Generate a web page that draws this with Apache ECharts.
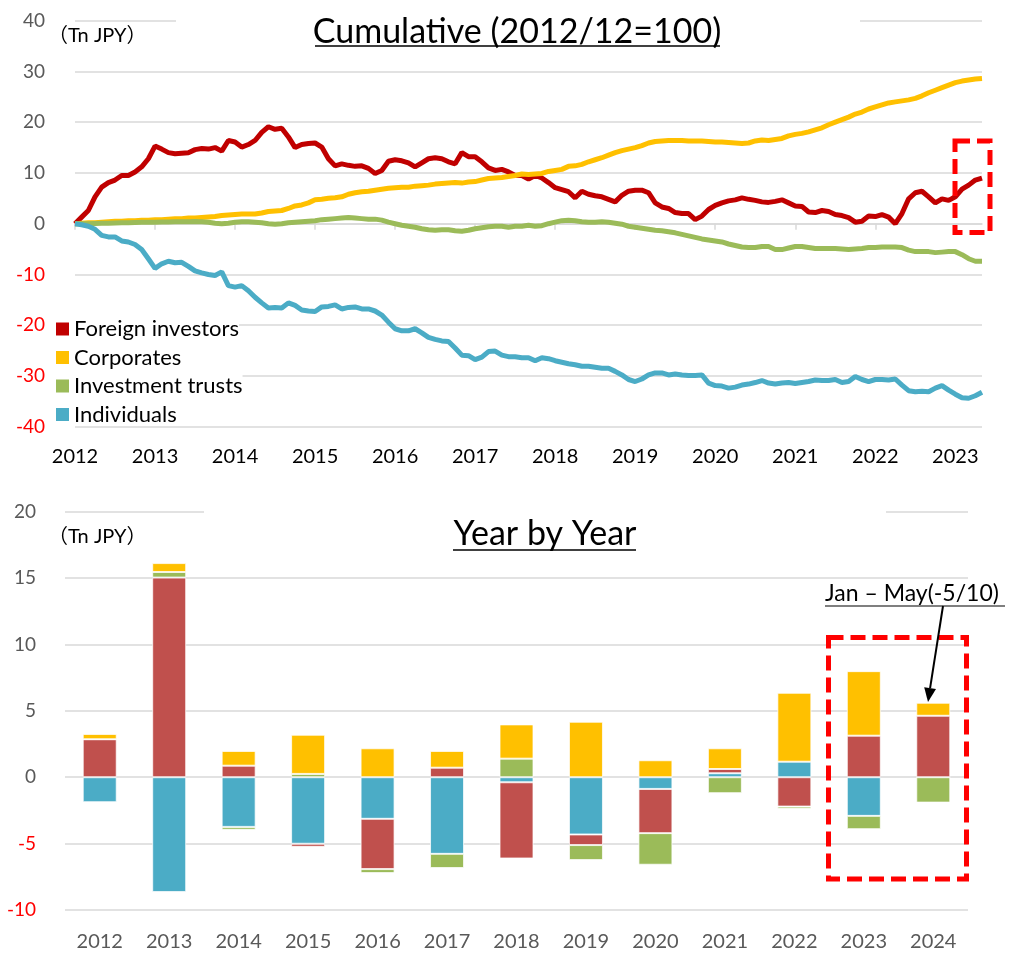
<!DOCTYPE html>
<html>
<head>
<meta charset="utf-8">
<script src="https://cdn.jsdelivr.net/npm/echarts@6/dist/echarts.min.js"></script>
<style>
  html, body { margin: 0; padding: 0; background: #fff; }
  #chart { width: 1009px; height: 953px; }
</style>
</head>
<body>
<div id="chart"></div>
<script>
const FONT = 'Lato, "Noto Sans CJK JP", sans-serif'

// cumulative net buying, monthly from 2012/12 (Tn JPY)
const foreignCum = [
  0, 1.3, 2.6, 5.3, 7.2, 8.1, 8.6, 9.5, 9.5, 10.2, 11.2, 12.8, 15.3, 14.7, 14.0, 13.8, 13.9, 14.0, 14.6, 14.8,
  14.7, 15.0, 14.3, 16.4, 16.1, 15.1, 15.6, 16.4, 18.0, 19.1, 18.6, 18.8, 17.1, 15.0, 15.6,
  15.8, 15.9, 15.1, 12.8, 11.4, 11.8, 11.5, 11.3, 11.4, 10.9, 9.9, 10.5, 12.3, 12.6, 12.4, 12.0, 11.2, 12.0,
  12.8, 13.0, 12.8, 12.2, 11.8, 14.0, 13.2, 13.2, 12.2, 11.0, 10.5, 10.7, 10.2, 9.5, 9.5, 8.8, 9.5,
  9.0, 8.1, 7.1, 6.7, 6.3, 5.1, 6.4, 5.8, 5.5, 5.3, 4.8, 4.3, 5.6, 6.4, 6.6, 6.6, 6.1, 4.1, 3.3, 3.0,
  2.2, 2.0, 2.0, 0.8, 1.5, 2.8, 3.6, 4.1, 4.5, 4.7, 5.1, 4.8, 4.6, 4.3,
  4.2, 4.4, 4.7, 4.1, 3.5, 3.4, 2.3, 2.2, 2.6, 2.4, 1.8, 1.6, 1.2, 0.3, 0.5, 1.5, 1.4, 1.8, 1.3, 0.0,
  2.0, 4.9, 6.1, 6.4, 5.3, 4.1, 4.9, 4.6, 5.3, 6.8, 7.6, 8.6, 9.0
]
const corporatesCum = [
  0, 0.1, 0.2, 0.2, 0.3, 0.4, 0.5, 0.5, 0.6, 0.6, 0.7, 0.7, 0.8, 0.8, 0.9, 1.0, 1.0, 1.1, 1.1, 1.2,
  1.3, 1.4, 1.6, 1.7, 1.8, 1.9, 1.9, 1.9, 2.1, 2.4, 2.5, 2.6, 3.0, 3.5, 3.7,
  4.1, 4.7, 4.8, 5.0, 5.1, 5.3, 5.8, 6.1, 6.3, 6.4, 6.6, 6.8, 7.0, 7.1, 7.2, 7.2, 7.4, 7.5,
  7.6, 7.8, 7.9, 8.0, 8.1, 8.0, 8.2, 8.3, 8.6, 8.9, 9.0, 9.1, 9.3, 9.5, 9.8, 9.7, 9.8,
  9.9, 10.3, 10.5, 10.7, 11.3, 11.4, 11.7, 12.2, 12.6, 13.0, 13.5, 14.0, 14.4, 14.7, 15.0, 15.4, 15.9, 16.2, 16.3, 16.4,
  16.4, 16.4, 16.3, 16.3, 16.3, 16.2, 16.1, 16.1, 16.0, 15.9, 15.8, 15.9, 16.3, 16.5,
  16.4, 16.6, 16.8, 17.3, 17.6, 17.8, 18.1, 18.5, 18.9, 19.5, 20.0, 20.5, 21.0, 21.6, 22.0, 22.6, 23.0, 23.4, 23.8, 24.0,
  24.2, 24.4, 24.7, 25.2, 25.8, 26.3, 26.8, 27.3, 27.8, 28.1, 28.3, 28.5, 28.6
]
const trustsCum = [
  0, 0, 0, 0.05, 0.1, 0.1, 0.15, 0.2, 0.2, 0.25, 0.3, 0.3, 0.3, 0.35, 0.35, 0.4, 0.4, 0.4, 0.45, 0.4,
  0.3, 0.1, 0, 0.1, 0.3, 0.4, 0.4, 0.3, 0.2, 0, -0.1, 0, 0.2, 0.3, 0.4,
  0.5, 0.6, 0.8, 0.9, 1.0, 1.1, 1.2, 1.1, 1.0, 0.9, 0.9, 0.7, 0.3, 0.0, -0.3, -0.5, -0.7, -1.0,
  -1.2, -1.3, -1.2, -1.2, -1.4, -1.5, -1.3, -1.0, -0.8, -0.6, -0.5, -0.5, -0.7, -0.5, -0.5, -0.3, -0.5,
  -0.4, 0.0, 0.3, 0.6, 0.7, 0.6, 0.4, 0.3, 0.3, 0.4, 0.3, 0.1, -0.1, -0.5, -0.7, -0.9, -1.1, -1.3, -1.4, -1.6,
  -1.8, -2.1, -2.4, -2.7, -3.0, -3.2, -3.4, -3.6, -4.0, -4.3, -4.6, -4.7, -4.7, -4.5,
  -4.5, -5.1, -5.1, -4.8, -4.5, -4.5, -4.7, -4.9, -4.9, -4.9, -4.9, -5.0, -5.1, -5.0, -4.9, -4.7, -4.7, -4.6, -4.6, -4.6,
  -4.7, -5.2, -5.5, -5.5, -5.5, -5.7, -5.6, -5.5, -5.5, -6.1, -6.9, -7.4, -7.4
]
const individualsCum = [
  0, -0.2, -0.5, -1.1, -2.3, -2.6, -2.6, -3.4, -3.6, -4.1, -5.1, -6.9, -8.8, -7.9, -7.4, -7.7, -7.6, -8.4, -9.3, -9.7,
  -10.0, -10.2, -9.5, -12.2, -12.5, -12.2, -13.2, -14.5, -15.6, -16.6, -16.5, -16.6, -15.6, -16.1, -17.0,
  -17.2, -17.3, -16.4, -16.3, -16.0, -16.8, -16.5, -16.4, -16.8, -16.8, -17.2, -18.0, -19.4, -20.7, -21.1, -21.1, -20.7, -21.5,
  -22.4, -22.8, -23.1, -23.2, -24.5, -25.9, -26.0, -26.8, -26.3, -25.2, -25.1, -25.9, -26.2, -26.2, -26.4, -26.4, -27.0,
  -26.4, -26.6, -27.0, -27.3, -27.6, -27.8, -28.1, -28.1, -28.3, -28.5, -28.5, -29.1, -29.8, -30.7, -31.1, -30.6, -29.8, -29.4, -29.4, -29.8,
  -29.6, -29.8, -29.9, -29.9, -29.8, -31.4, -31.9, -32.0, -32.4, -32.2, -31.8, -31.6, -31.3, -30.9,
  -31.4, -31.6, -31.4, -31.3, -31.5, -31.3, -31.1, -30.8, -30.9, -30.9, -30.7, -31.3, -31.1, -30.1, -30.7, -31.1, -30.7, -30.7, -30.8, -30.6,
  -31.8, -32.9, -33.1, -33.0, -33.1, -32.4, -31.9, -32.8, -33.6, -34.3, -34.4, -33.9, -33.2
]

// yearly net buying (Tn JPY), 2024 = Jan-May
const years = ['2012', '2013', '2014', '2015', '2016', '2017', '2018', '2019', '2020', '2021', '2022', '2023', '2024']
const foreignYr = [2.86, 15.04, 0.87, -0.23, -3.79, 0.72, -5.74, -0.80, -3.33, 0.32, -2.21, 3.13, 4.63]
const corporatesYr = [0.40, 0.67, 1.11, 2.95, 2.18, 1.26, 2.58, 4.18, 1.28, 1.56, 5.19, 4.86, 0.98]
const trustsYr = [0, 0.42, -0.22, 0.25, -0.30, -1.07, 1.40, -1.13, -2.38, -1.20, -0.17, -1.00, -1.91]
const individualsYr = [-1.88, -8.65, -3.74, -5.01, -3.13, -5.77, -0.38, -4.31, -0.88, 0.30, 1.17, -2.91, 0]

const seriesNames = ['Foreign investors', 'Corporates', 'Investment trusts', 'Individuals']

// month axis 2012/12 ...
const months = []
for (let i = 0; i < foreignCum.length; i++) {
  const y = 2012 + Math.floor((11 + i) / 12)
  const m = (11 + i) % 12 + 1
  months.push(y + '/' + String(m).padStart(2, '0'))
}
const isYearEnd = (idx, val) => val.endsWith('/12')

const yLabelColor = v => (v < 0 ? '#ff0000' : '#595959')
const gridLine = { show: true, lineStyle: { color: '#d9d9d9', width: 1.5 } }

const chart = echarts.init(document.getElementById('chart'))

const lineSeries = [
  { name: seriesNames[0], data: foreignCum, color: '#c00000' },
  { name: seriesNames[1], data: corporatesCum, color: '#ffc000' },
  { name: seriesNames[2], data: trustsCum, color: '#9bbb59' },
  { name: seriesNames[3], data: individualsCum, color: '#4bacc6' }
].map(s => ({
  name: s.name, type: 'line', xAxisIndex: 0, yAxisIndex: 0, data: s.data,
  symbol: 'none', lineStyle: { color: s.color, width: 5 }, itemStyle: { color: s.color }
}))

// stacking order as in the source: individuals nearest zero, corporates on top
const barSeries = [
  { name: seriesNames[3], data: individualsYr, color: '#4bacc6' },
  { name: seriesNames[0], data: foreignYr, color: '#c0504d' },
  { name: seriesNames[2], data: trustsYr, color: '#9bbb59' },
  { name: seriesNames[1], data: corporatesYr, color: '#ffc000' }
].map(s => ({
  name: s.name, type: 'bar', xAxisIndex: 1, yAxisIndex: 1, stack: 'year', data: s.data,
  barWidth: 34,
  itemStyle: { color: s.color, borderColor: 'rgba(255,255,255,0.75)', borderWidth: 1 }
}))

const dashed = { stroke: '#ff0000', fill: null, lineWidth: 5, lineDash: [15, 7] }

chart.setOption({
  animation: false,
  textStyle: { fontFamily: FONT },
  grid: [
    { left: 75, right: 27, top: 20.7, height: 406 },
    { left: 65, right: 41, top: 511.7, height: 398.3 }
  ],
  legend: {
    data: seriesNames,
    orient: 'vertical',
    left: 56, top: 318, padding: 0,
    icon: 'rect', itemWidth: 13, itemHeight: 13, itemGap: 6.5,
    textStyle: { fontSize: 22, color: '#000', fontFamily: FONT, backgroundColor: '#fff', lineHeight: 22 }
  },
  xAxis: [
    {
      type: 'category', gridIndex: 0, data: months, boundaryGap: false,
      axisLine: { onZero: true, lineStyle: { color: '#d9d9d9', width: 1.5 } },
      axisTick: { show: true, interval: isYearEnd, length: 6, lineStyle: { color: '#d9d9d9', width: 1.5 } },
      axisLabel: { interval: isYearEnd, formatter: v => v.slice(0, 4), margin: 20, fontSize: 20, color: '#000' },
      splitLine: { show: false }
    },
    {
      type: 'category', gridIndex: 1, data: years,
      axisLine: { onZero: false, show: false },
      axisTick: { show: false },
      axisLabel: { margin: 22, fontSize: 20, color: '#595959' }
    }
  ],
  yAxis: [
    {
      type: 'value', gridIndex: 0, min: -40, max: 40, interval: 10,
      axisLine: { show: false }, axisTick: { show: false },
      axisLabel: { margin: 30, fontSize: 19, color: yLabelColor },
      splitLine: gridLine
    },
    {
      type: 'value', gridIndex: 1, min: -10, max: 20, interval: 5,
      axisLine: { show: false }, axisTick: { show: false },
      axisLabel: { margin: 29, fontSize: 19, color: yLabelColor },
      splitLine: gridLine
    }
  ],
  series: [...lineSeries, ...barSeries],
  graphic: [
    // title boxes hide the top gridlines
    { type: 'rect', z: 50, shape: { x: 176, y: 10, width: 684, height: 22 }, style: { fill: '#fff' } },
    { type: 'rect', z: 50, shape: { x: 204, y: 501, width: 682, height: 22 }, style: { fill: '#fff' } },
    { type: 'text', z: 60, x: 517, y: 32, style: { text: 'Cumulative (2012/12=100)', font: '34px ' + FONT, fill: '#000', align: 'center', verticalAlign: 'middle' } },
    { type: 'line', z: 60, shape: { x1: 315, y1: 46, x2: 720, y2: 46 }, style: { stroke: '#000', lineWidth: 1.5 } },
    { type: 'text', z: 60, x: 545, y: 534, style: { text: 'Year by Year', font: '34px ' + FONT, fill: '#000', align: 'center', verticalAlign: 'middle' } },
    { type: 'line', z: 60, shape: { x1: 453, y1: 550, x2: 636, y2: 550 }, style: { stroke: '#000', lineWidth: 1.5 } },
    { type: 'text', z: 60, x: 48, y: 36, style: { text: '（Tn JPY）', font: '20px ' + FONT, fill: '#000', align: 'left', verticalAlign: 'middle' } },
    { type: 'text', z: 60, x: 48, y: 537, style: { text: '（Tn JPY）', font: '20px ' + FONT, fill: '#000', align: 'left', verticalAlign: 'middle' } },
    // highlight boxes
    { type: 'rect', z: 55, shape: { x: 955, y: 141, width: 35, height: 91.5 }, style: dashed },
    { type: 'rect', z: 55, shape: { x: 828.5, y: 637.5, width: 138, height: 241.5 }, style: dashed },
    // note with arrow
    { type: 'text', z: 60, x: 825, y: 594, style: { text: 'Jan – May(-5/10)', font: '23px ' + FONT, fill: '#000', align: 'left', verticalAlign: 'middle' } },
    { type: 'line', z: 60, shape: { x1: 825, y1: 606, x2: 1005, y2: 606 }, style: { stroke: '#000', lineWidth: 1.2 } },
    { type: 'line', z: 60, shape: { x1: 943, y1: 606, x2: 930.1, y2: 688.2 }, style: { stroke: '#000', lineWidth: 2 } },
    { type: 'polygon', z: 60, shape: { points: [[928, 702], [936, 689.1], [924.2, 687.3]] }, style: { fill: '#000' } }
  ]
})
</script>
</body>
</html>
